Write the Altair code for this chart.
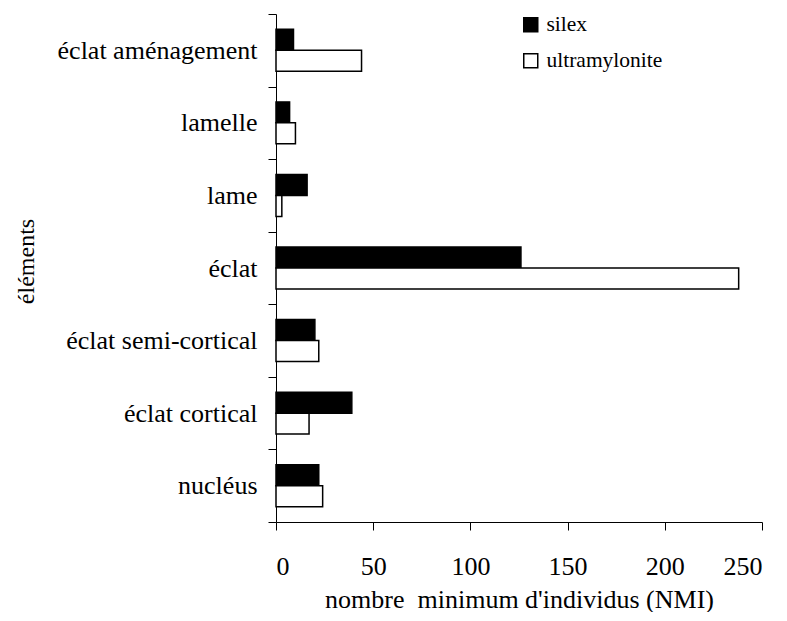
import altair as alt
import pandas as pd

categories = ["éclat aménagement", "lamelle", "lame", "éclat",
              "éclat semi-cortical", "éclat cortical", "nucléus\u00a0"]
series = ["silex", "ultramylonite"]
silex = [9, 7, 16, 126, 20, 39, 22]
ultramylonite = [44, 10, 3, 238, 22, 17, 24]
x_ticks = [0, 50, 100, 150, 200, 250]

rows = []
for c, s, u in zip(categories, silex, ultramylonite):
    rows.append({"element": c, "series": "silex", "value": s})
    rows.append({"element": c, "series": "ultramylonite", "value": u})
df = pd.DataFrame(rows)

FONT = "Liberation Serif"

chart = alt.Chart(df).mark_bar(stroke="black", strokeWidth=1.5).encode(
    x=alt.X("value:Q",
            scale=alt.Scale(domain=[0, 250], nice=False, zero=True),
            axis=alt.Axis(values=x_ticks, grid=False,
                          title="nombre\u00a0\u00a0minimum d'individus (NMI)",
                          titleY=85, titleBaseline="alphabetic",
                          labelPadding=23, titleFontSize=26)),
    y=alt.Y("element:N", sort=categories,
            scale=alt.Scale(paddingInner=0, paddingOuter=0),
            axis=alt.Axis(tickBand="extent", grid=False, title="éléments",
                          labelPadding=11, labelLimit=0,
                          titleX=-243, titleY=247,
                          titleAngle=-90, titleBaseline="alphabetic",
                          titleAlign="center", titleFontSize=24)),
    yOffset=alt.YOffset("series:N", sort=series,
                        scale=alt.Scale(paddingInner=0, paddingOuter=0.73)),
    fill=alt.Fill("series:N",
                  scale=alt.Scale(domain=series, range=["black", "white"]),
                  legend=alt.Legend(orient="none", legendX=244, legendY=0,
                                    title=None, symbolType="square",
                                    symbolSize=196, symbolStrokeColor="black",
                                    symbolStrokeWidth=1.5, labelFontSize=21.5,
                                    labelFont=FONT, labelColor="black",
                                    labelOffset=5, rowPadding=13)),
).properties(
    width=486, height=508,
    autosize=alt.AutoSizeParams(type="none"),
    padding={"left": 268, "top": 6, "right": 17, "bottom": 90},
).configure_view(
    stroke=None
).configure_axis(
    labelFont=FONT, titleFont=FONT, labelFontSize=26,
    labelColor="black", titleColor="black", titleFontWeight="normal",
    domainColor="black", tickColor="black", tickSize=8, domainWidth=1,
    tickWidth=1,
)

chart.save("out.html", embed_options={"renderer": "svg", "actions": False})
